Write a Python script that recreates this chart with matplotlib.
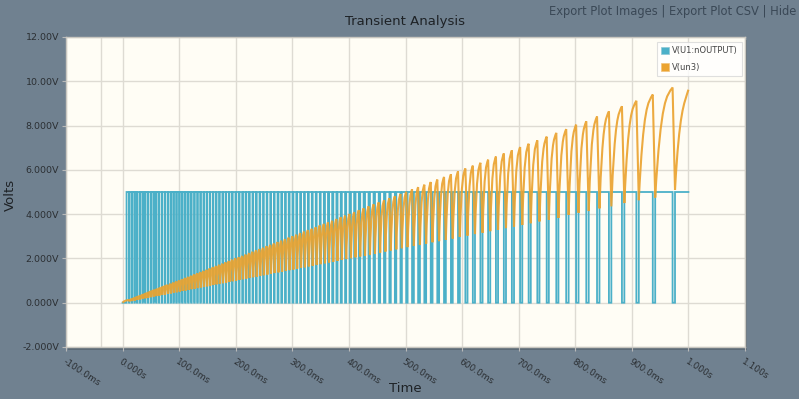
import matplotlib
matplotlib.use("Agg")
import matplotlib.pyplot as plt
from matplotlib.path import Path
from matplotlib.patches import PathPatch, Patch, Rectangle

# ---------------- data ----------------
title = "Transient Analysis"
series_names = ["V(U1:nOUTPUT)", "V(un3)"]

x_ticks = [-100, 0, 100, 200, 300, 400, 500, 600, 700, 800, 900, 1000, 1100]
x_tick_labels = ["-100.0ms", "0.000s", "100.0ms", "200.0ms", "300.0ms", "400.0ms",
                 "500.0ms", "600.0ms", "700.0ms", "800.0ms", "900.0ms", "1.000s", "1.100s"]
y_ticks = [-2, 0, 2, 4, 6, 8, 10, 12]
y_tick_labels = ["-2.000V", "0.000V", "2.000V", "4.000V", "6.000V", "8.000V", "10.00V", "12.00V"]

# V(U1:nOUTPUT): 0 V until the first rise, then 5 V with short low pulses
out_high = 5.0
out_rise_ms = 7.0
out_end_ms = 1000.0
pulse_start_ms = [
    11.6, 16.2, 20.9, 25.6, 30.3, 35.1, 39.9, 44.7, 49.6, 54.5, 59.4, 64.4, 69.4, 74.4,
    79.5, 84.6, 89.7, 94.9, 100.1, 105.3, 110.6, 115.9, 121.2, 126.6, 132.0, 137.4,
    142.9, 148.4, 153.9, 159.5, 165.1, 170.7, 176.4, 182.1, 187.8, 193.6,
    199.5, 205.4, 211.4, 217.4, 223.5, 229.6, 235.8, 242.0, 248.3, 254.6, 261.0, 267.4,
    273.9, 280.4, 287.0, 293.6, 300.3, 307.0, 313.8, 320.6, 327.5, 334.4, 341.4, 348.5,
    355.7, 363.0, 370.4, 377.9, 385.5, 393.2,
    401.1, 409.2, 417.5, 426.0, 434.7, 443.6, 452.7, 462.0, 471.5, 481.2, 491.1, 501.2,
    511.6, 522.3, 533.3, 544.6, 556.2, 568.1, 580.3, 592.8,
    605.8, 619.0, 632.4, 646.0, 659.8, 673.8, 688.0, 702.6, 717.6, 733.0, 749.5, 766.5,
    784.0, 801.5, 819.5, 838.5, 859.5, 882.5, 908.0, 937.0, 972.0,
]
pulse_low_ms = (
    [0.6] * 14 + [0.8] * 12 + [1.0] * 10 +
    [1.3] * 12 + [1.6] * 12 + [2.0] * 6 +
    [2.5] * 12 + [3.2] * 8 +
    [3.8] * 12 + [4.3] * 9
)

# V(un3): peak just before each low pulse, trough at the end of it
un3_peak = [
    0.12, 0.16, 0.21, 0.26, 0.30, 0.35, 0.40, 0.45, 0.50, 0.55, 0.59, 0.64, 0.69, 0.74,
    0.80, 0.85, 0.90, 0.95, 1.00, 1.05, 1.11, 1.16, 1.21, 1.27, 1.32, 1.37,
    1.43, 1.48, 1.54, 1.60, 1.65, 1.71, 1.76, 1.82, 1.88, 1.94,
    2.00, 2.05, 2.11, 2.17, 2.24, 2.30, 2.36, 2.42, 2.48, 2.55, 2.61, 2.67,
    2.74, 2.80, 2.87, 2.94, 3.00, 3.07, 3.14, 3.21, 3.28, 3.34, 3.41, 3.49,
    3.56, 3.63, 3.70, 3.78, 3.86, 3.93,
    4.01, 4.09, 4.18, 4.26, 4.35, 4.44, 4.53, 4.62, 4.72, 4.81, 4.91, 5.01,
    5.12, 5.22, 5.33, 5.45, 5.56, 5.68, 5.80, 5.93,
    6.06, 6.19, 6.32, 6.46, 6.60, 6.74, 6.88, 7.03, 7.18, 7.33, 7.50, 7.67,
    7.84, 8.04, 8.19, 8.41, 8.64, 8.87, 9.12, 9.40, 9.72,
]
un3_trough = [
    0.06, 0.08, 0.10, 0.13, 0.15, 0.18, 0.20, 0.22, 0.25, 0.27, 0.30, 0.32, 0.35, 0.37,
    0.40, 0.42, 0.45, 0.47, 0.50, 0.53, 0.55, 0.58, 0.61, 0.63, 0.66, 0.69,
    0.71, 0.74, 0.77, 0.80, 0.83, 0.85, 0.88, 0.91, 0.94, 0.97,
    1.00, 1.03, 1.06, 1.09, 1.12, 1.15, 1.18, 1.21, 1.24, 1.27, 1.31, 1.34,
    1.37, 1.40, 1.44, 1.47, 1.50, 1.54, 1.57, 1.60, 1.64, 1.67, 1.71, 1.74,
    1.78, 1.82, 1.85, 1.89, 1.93, 1.97,
    2.01, 2.05, 2.09, 2.13, 2.17, 2.22, 2.26, 2.31, 2.36, 2.41, 2.46, 2.51,
    2.56, 2.61, 2.67, 2.73, 2.78, 2.84, 2.90, 2.97,
    3.03, 3.10, 3.16, 3.23, 3.30, 3.37, 3.44, 3.51, 3.59, 3.67, 3.75, 3.83,
    3.97, 4.06, 4.14, 4.26, 4.35, 4.50, 4.63, 4.75, 5.10,
]
un3_end_v = 9.62

# ---------------- styling ----------------
FIG_BG = "#708190"
AX_BG = "#fffdf5"
GRID = "#dedbd3"
BLUE = "#4bb0c8"
ORANGE = "#eba330"
TXT = "#2b2f33"

fig = plt.figure(figsize=(7.99, 3.99), dpi=100)
fig.patch.set_facecolor(FIG_BG)
W, H = 799, 399
l, r, t, b = 66, 745, 37, 347
# drop shadow behind the plot area
fig.patches.append(Rectangle(((l + 2) / W, 1 - (b + 3) / H), (r - l) / W, (b - t) / H,
                             transform=fig.transFigure, facecolor="#5d6b77",
                             edgecolor="none", zorder=-5))
ax = fig.add_axes([l / W, 1 - b / H, (r - l) / W, (b - t) / H])
ax.set_zorder(2)
ax.set_facecolor(AX_BG)

ax.set_xlim(x_ticks[0], x_ticks[-1])
ax.set_ylim(y_ticks[0], y_ticks[-1])
ax.set_xticks(x_ticks)
ax.set_xticklabels(x_tick_labels, rotation=-33, ha="left", va="top",
                   rotation_mode="anchor", fontsize=6.5, color=TXT)
ax.set_yticks(y_ticks)
ax.set_yticklabels(y_tick_labels, fontsize=6.8, color=TXT)
ax.tick_params(axis="both", length=3, width=0.8, color="#b9b9b9", pad=2)
ax.tick_params(axis="x", pad=4)
ax.grid(True, color=GRID, linewidth=1.0)
ax.set_axisbelow(True)
ax.axvline(-39, color=GRID, linewidth=1.0, zorder=0.5)
for s in ax.spines.values():
    s.set_color("#c9c7c0")
    s.set_linewidth(1.0)

# ---- V(U1:nOUTPUT) square wave ----
bx = [0.0, out_rise_ms, out_rise_ms]
by = [0.0, 0.0, out_high]
for ts, w in zip(pulse_start_ms, pulse_low_ms):
    bx += [ts, ts, ts + w, ts + w]
    by += [out_high, 0.0, 0.0, out_high]
bx.append(out_end_ms)
by.append(out_high)
blue_line, = ax.plot(bx, by, color=BLUE, linewidth=1.3, zorder=2, solid_joinstyle="miter")
blue_line.set_snap(False)

# ---- V(un3) charge / discharge curve (cubic segments, RC-like rise) ----
S0, S1 = 0.908, 0.0745   # start / end slope handles of each rising segment
verts = [(0.0, 0.0)]
codes = [Path.MOVETO]
t0, v0 = 0.0, 0.0
for ts, w, pk, tr in zip(pulse_start_ms, pulse_low_ms, un3_peak, un3_trough):
    dt, dv = ts - t0, pk - v0
    verts += [(t0 + dt / 3, v0 + S0 * dv), (ts - dt / 3, pk - S1 * dv), (ts, pk), (ts + w, tr)]
    codes += [Path.CURVE4, Path.CURVE4, Path.CURVE4, Path.LINETO]
    t0, v0 = ts + w, tr
dt, dv = out_end_ms - t0, un3_end_v - v0
verts += [(t0 + dt / 3, v0 + 0.8 * dv), (out_end_ms - dt / 3, un3_end_v - 0.15 * dv),
          (out_end_ms, un3_end_v)]
codes += [Path.CURVE4, Path.CURVE4, Path.CURVE4]
orange = PathPatch(Path(verts, codes), facecolor="none", edgecolor=ORANGE, alpha=0.92,
                   linewidth=1.5, zorder=3, joinstyle="miter")
orange.set_snap(False)
ax.add_patch(orange)

# ---- legend ----
handles = [Patch(facecolor=BLUE, edgecolor="#8fc9d6", linewidth=0.5),
           Patch(facecolor=ORANGE, edgecolor="#f2c27a", linewidth=0.5)]
leg = ax.legend(handles, series_names, loc="upper right", bbox_to_anchor=(0.996, 0.985),
                fontsize=6, frameon=True, fancybox=False, handlelength=1.0,
                handleheight=1.0, handletextpad=0.3, borderpad=0.55, labelspacing=0.9,
                borderaxespad=0.0)
leg.get_frame().set_facecolor("white")
leg.get_frame().set_edgecolor("#d8d8d8")
leg.get_frame().set_linewidth(0.8)
for txt in leg.get_texts():
    txt.set_color("#444444")

# ---- texts ----
fig.text(405 / W, 1 - 21 / H, title, ha="center", va="center", fontsize=9.5, color="#1e2226")
fig.text(405 / W, 1 - 389 / H, "Time", ha="center", va="center", fontsize=9.5, color="#1e2226")
fig.text(10 / W, 1 - 195 / H, "Volts", ha="center", va="center", rotation=90,
         fontsize=9.5, color="#1e2226")
fig.text(796 / W, 1 - 11 / H, "Export Plot Images | Export Plot CSV | Hide",
         ha="right", va="center", fontsize=8.3, color="#3a4856")

fig.savefig("out.png", dpi=100, facecolor=fig.get_facecolor())
